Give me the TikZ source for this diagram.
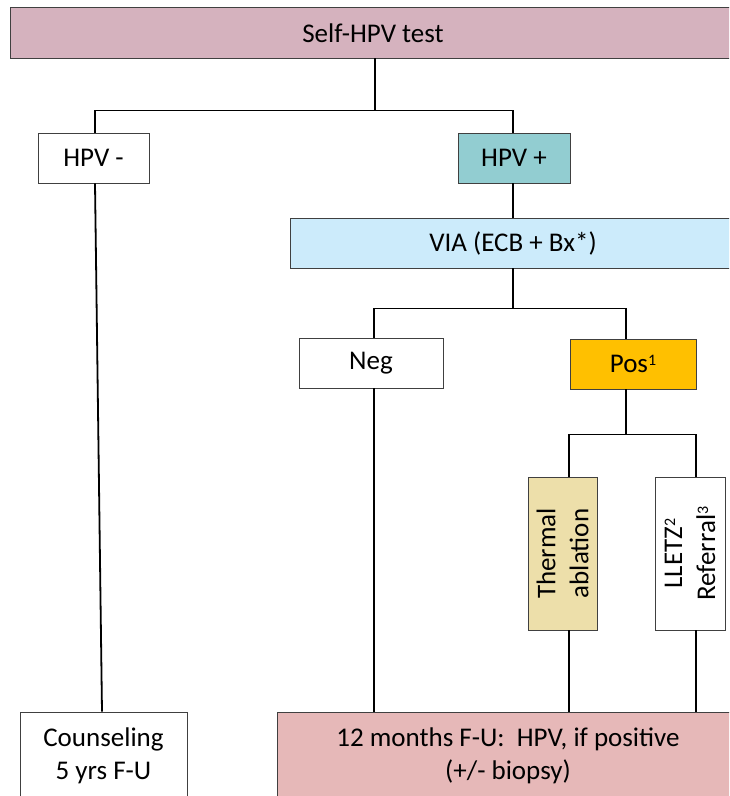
\documentclass[tikz,border=0pt]{standalone}
\usepackage{fontspec}
\setmainfont{Carlito}
\definecolor{topfill}{HTML}{D5B2BE}
\definecolor{hpvpfill}{HTML}{92CDD1}
\definecolor{viafill}{HTML}{CCEBFB}
\definecolor{posfill}{HTML}{FFC000}
\definecolor{thermfill}{HTML}{EDDFAA}
\definecolor{botfill}{HTML}{E6B8B8}
\definecolor{edge}{HTML}{404040}
\newcommand{\supx}[1]{\raisebox{0.55ex}{\fontsize{16}{16}\selectfont #1}}
\begin{document}
\begin{tikzpicture}[x=1pt,y=-1pt,
  box/.style={draw=edge, line width=0.9pt, inner sep=0pt, align=center,
    font=\fontsize{27}{33}\selectfont},
  conn/.style={line width=1.8pt, black}]
\clip (0,0) rectangle (729,796);
\fill[white] (0,0) rectangle (729,796);
\node[box, fill=topfill, minimum width=730pt, minimum height=51pt] (top) at (375,32.5) {};
\node[font=\fontsize{27}{33}\selectfont] (toptext) at (373,33) {Self-HPV test};
\node[box, fill=white, minimum width=111pt, minimum height=50pt] (hpvn) at (93.5,158) {HPV -};
\node[box, fill=hpvpfill, minimum width=112pt, minimum height=50pt] (hpvp) at (514,158) {HPV +};
\node[box, fill=viafill, minimum width=446pt, minimum height=50pt] (via) at (513,243) {VIA (ECB + Bx*)};
\node[box, fill=white, minimum width=144pt, minimum height=50pt] (neg) at (371,363) {Neg};
\node[box, fill=posfill, minimum width=126pt, minimum height=50pt] (pos) at (633,364) {Pos\supx{1}};
\node[box, fill=thermfill, minimum width=69pt, minimum height=153pt] (therm) at (562.5,553.5) {};
\node[rotate=90, align=center, font=\fontsize{27}{33}\selectfont] (thermtext) at (therm.center) {Thermal\\ablation};
\node[box, fill=white, minimum width=70pt, minimum height=153pt] (lletz) at (690,553.5) {};
\node[rotate=90, align=center, font=\fontsize{27}{33}\selectfont] (lletztext) at (lletz.center) {LLETZ\supx{2}\\Referral\supx{3}};
\node[box, fill=white, minimum width=167pt, minimum height=88pt] (couns) at (103.5,756) {Counseling\\5 yrs F-U};
\node[box, fill=botfill, minimum width=462pt, minimum height=88pt] (bot) at (508,756) {12 months F-U:\ \ HPV, if positive\\(+/- biopsy)};
% connectors
\draw[conn] (top.south) -- ++(0,52) coordinate (j1);
\draw[conn] ([xshift=1.5pt]hpvn.north) |- (j1) -| ([xshift=-1pt]hpvp.north);
\draw[conn] ([xshift=-1pt]hpvp.south) -- ([xshift=-1pt]hpvp.south |- via.north);
\draw[conn] (via.south) -- ++(0,40) coordinate (j2);
\draw[conn] ([xshift=3pt]neg.north) |- (j2) -| ([xshift=-7pt]pos.north);
\draw[conn] ([xshift=-7pt]pos.south) -- ++(0,45) coordinate (j3);
\draw[conn] ([xshift=6.5pt]therm.north) |- (j3) -| ([xshift=6pt]lletz.north);
\draw[conn] ([xshift=6.5pt]therm.south) -- ([xshift=6.5pt]therm.south |- bot.north);
\draw[conn] ([xshift=6pt]lletz.south) -- ([xshift=6pt]lletz.south |- bot.north);
\draw[conn] ([xshift=3pt]neg.south) -- ([xshift=3pt]neg.south |- bot.north);
\draw[conn] ([xshift=1.5pt]hpvn.south) -- ([xshift=-1.5pt]couns.north);
\end{tikzpicture}
\end{document}
